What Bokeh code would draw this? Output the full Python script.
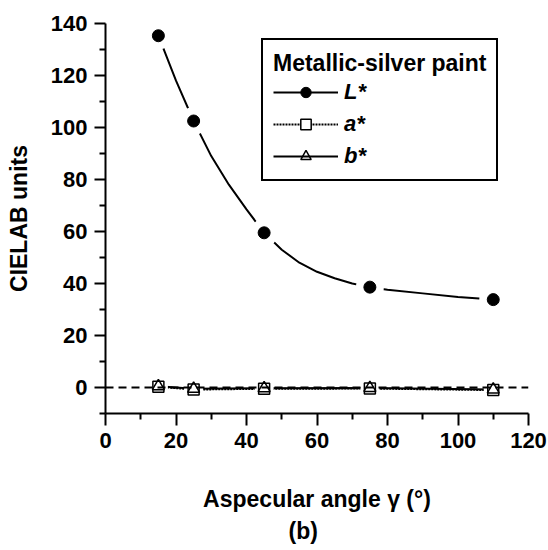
from bokeh.plotting import figure
from bokeh.models import FixedTicker, Span, Legend, LegendItem, Title, Range1d
from bokeh.embed import file_html
from bokeh.resources import INLINE

# ---- data ----
angles = [15, 25, 45, 75, 110]
L_star = [135.3, 102.5, 59.5, 38.6, 33.8]
a_star = [0.3, -0.8, -0.5, -0.4, -1.0]
b_star = [0.5, -0.5, -0.3, -0.2, -0.8]

# fitted curve through L*
fit_angles = [15, 20, 25, 30, 35, 40, 45, 50, 55, 60, 65, 70, 75, 80, 90, 100, 110]
fit_L = [135.3, 118, 102.5, 89, 78, 68.5, 59.5, 53, 48, 44.5, 42, 40, 38.6, 37.6, 36.2, 34.8, 33.8]

x_major = [0, 20, 40, 60, 80, 100, 120]
x_minor = [10, 30, 50, 70, 90, 110]
y_major = [0, 20, 40, 60, 80, 100, 120, 140]
y_minor = [-10, 10, 30, 50, 70, 90, 110, 130]

FONT = "Liberation Sans"

p = figure(width=548, height=550, output_backend="svg", toolbar_location=None,
           x_range=Range1d(0, 120), y_range=Range1d(-10, 140),
           min_border_left=105, min_border_right=20, min_border_top=23, min_border_bottom=137)
p.outline_line_color = None
p.xgrid.visible = False
p.ygrid.visible = False
p.background_fill_color = "white"
p.border_fill_color = "white"

for ax in (p.xaxis[0], p.yaxis[0]):
    ax.axis_line_width = 2
    ax.axis_line_color = "black"
    ax.major_tick_line_width = 2
    ax.minor_tick_line_width = 2
    ax.major_tick_line_color = "black"
    ax.minor_tick_line_color = "black"
    ax.major_tick_in = 0
    ax.minor_tick_in = 0
    ax.major_label_text_font = FONT
    ax.major_label_text_font_style = "bold"
    ax.major_label_text_font_size = "22px"
    ax.major_label_text_color = "black"
    ax.axis_label_text_font = FONT
    ax.axis_label_text_font_style = "bold"
    ax.axis_label_text_font_size = "23px"
    ax.axis_label_text_color = "black"

p.xaxis.ticker = FixedTicker(ticks=x_major, minor_ticks=x_minor)
p.yaxis.ticker = FixedTicker(ticks=y_major, minor_ticks=y_minor)
p.xaxis.major_tick_out = 12
p.xaxis.minor_tick_out = 6
p.yaxis.major_tick_out = 11
p.yaxis.minor_tick_out = 6
p.xaxis.major_label_standoff = 7
p.yaxis.major_label_standoff = 7
p.xaxis.axis_label = "Aspecular angle \u03b3 (\u00b0)"
p.yaxis.axis_label = "CIELAB units"
p.xaxis.axis_label_standoff = 35
p.yaxis.axis_label_standoff = 16

# zero reference line
p.add_layout(Span(location=0, dimension="width", line_color="black",
                  line_width=2, line_dash="8 5"))

# lines
rL = p.line(fit_angles, fit_L, line_color="black", line_width=2)
ra = p.line(angles, a_star, line_color="black", line_width=2, line_dash="2 1")
rb = p.line(angles, b_star, line_color="black", line_width=2)

# white halos to give the gaps around markers
p.scatter(angles, L_star, marker="circle", size=28, fill_color="white", line_color=None)
p.scatter(angles, a_star, marker="square", size=19, fill_color="white", line_color=None)

# markers
mL = p.scatter(angles, L_star, marker="circle", size=12, fill_color="black",
               line_color="black", line_width=1)
ma = p.scatter(angles, a_star, marker="square", size=11, fill_color="white",
               line_color="black", line_width=1.5)
mb = p.scatter(angles, b_star, marker="triangle", size=12, fill_color=None,
               line_color="black", line_width=1.5)

legend = Legend(items=[
    LegendItem(label="L*", renderers=[rL, mL]),
    LegendItem(label="a*", renderers=[ra, ma]),
    LegendItem(label="b*", renderers=[rb, mb]),
])
legend.title = "Metallic-silver paint"
legend.title_text_font = FONT
legend.title_text_font_style = "bold"
legend.title_text_font_size = "23px"
legend.title_text_color = "black"
legend.title_standoff = 2
legend.label_text_font = FONT
legend.label_text_font_style = "bold italic"
legend.label_text_font_size = "22px"
legend.label_text_color = "black"
legend.border_line_color = "black"
legend.border_line_alpha = 1
legend.border_line_width = 2
legend.background_fill_color = "white"
legend.background_fill_alpha = 1
legend.padding = 10
legend.spacing = 6
legend.margin = 0
legend.glyph_width = 65
legend.glyph_height = 26
legend.label_height = 26
legend.label_standoff = 6
legend.location = (156, 232)
p.add_layout(legend, "center")

p.add_layout(Title(text="(b)", align="left", offset=183, standoff=2,
                   text_font=FONT, text_font_style="bold", text_font_size="23px",
                   text_color="black"), "below")

open("out.html", "w").write(file_html(p, INLINE))
